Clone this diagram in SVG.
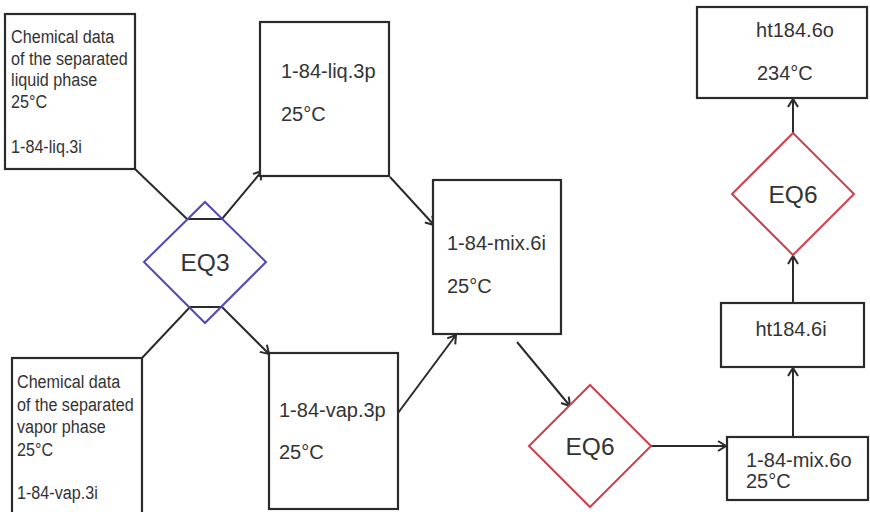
<svg xmlns="http://www.w3.org/2000/svg" width="870" height="512" viewBox="0 0 870 512">
<defs>
<marker id="arr" markerUnits="userSpaceOnUse" markerWidth="14" markerHeight="14" viewBox="0 0 14 14" refX="12" refY="7" orient="auto">
<path d="M4,2 L12,7 L4,12" fill="none" stroke="#2b2b2b" stroke-width="2"/>
</marker>
<style>
.box{fill:#fff;stroke:#2b2b2b;stroke-width:2.2}
.t{font-family:"Liberation Sans",Arial,sans-serif;fill:#333}
.s16{font-size:19px}
.s19{font-size:20px}
.eq{font-size:24.5px;text-anchor:middle}
.blue{fill:#fff;stroke:#5048b8;stroke-width:2}
.red{fill:#fff;stroke:#d0404c;stroke-width:2}
.con{fill:none;stroke:#2b2b2b;stroke-width:2;marker-end:url(#arr)}
</style>
</defs>
<rect width="870" height="512" fill="#fff"/>
<g id="connectors">
<polyline class="con" points="135,169 187,219 222,219 262,171"/>
<polyline class="con" points="142,358 190,307 222,307 269,354"/>
<line class="con" x1="390" y1="177" x2="434" y2="225"/>
<line class="con" x1="398" y1="413" x2="456" y2="335"/>
<line class="con" x1="517" y1="342" x2="570" y2="406"/>
<line class="con" x1="651" y1="446" x2="726" y2="446"/>
<line class="con" x1="793" y1="437" x2="793" y2="368"/>
<line class="con" x1="793" y1="303" x2="793" y2="256"/>
<line class="con" x1="793" y1="133" x2="793" y2="99"/>
</g>
<g id="liq3i">
<rect class="box" x="5" y="14" width="130" height="155"/>
<g transform="scale(0.85,1)">
<text class="t s16" x="13" y="43">Chemical data</text>
<text class="t s16" x="13" y="65">of the separated</text>
<text class="t s16" x="13" y="86">liquid phase</text>
<text class="t s16" x="13" y="108">25°C</text>
<text class="t s16" x="13" y="153">1-84-liq.3i</text>
</g>
</g>
<g id="vap3i">
<rect class="box" x="12" y="358" width="130" height="162"/>
<g transform="scale(0.85,1)">
<text class="t s16" x="20" y="388">Chemical data</text>
<text class="t s16" x="20" y="411">of the separated</text>
<text class="t s16" x="20" y="433">vapor phase</text>
<text class="t s16" x="20" y="456">25°C</text>
<text class="t s16" x="20" y="499">1-84-vap.3i</text>
</g>
</g>
<g id="eq3">
<polygon class="blue" points="205,202 266,262 205,323 144,262" fill-opacity="0"/>
<text class="t eq" x="205" y="271">EQ3</text>
</g>
<g id="liq3p">
<rect class="box" x="260" y="22" width="129" height="154"/>
<text class="t s19" x="281" y="78">1-84-liq.3p</text>
<text class="t s19" x="281" y="121">25°C</text>
</g>
<g id="vap3p">
<rect class="box" x="269" y="353" width="129" height="156"/>
<text class="t s19" x="279" y="417">1-84-vap.3p</text>
<text class="t s19" x="279" y="459">25°C</text>
</g>
<g id="mix6i">
<rect class="box" x="433" y="180" width="128" height="154"/>
<text class="t s19" x="447" y="250">1-84-mix.6i</text>
<text class="t s19" x="447" y="293">25°C</text>
</g>
<g id="eq6a">
<polygon class="red" points="590,385 651,446 590,507 529,446"/>
<text class="t eq" x="590" y="455">EQ6</text>
</g>
<g id="mix6o">
<rect class="box" x="727" y="437" width="141" height="63"/>
<text class="t s19" x="746" y="467">1-84-mix.6o</text>
<text class="t s19" x="746" y="488">25°C</text>
</g>
<g id="ht6i">
<rect class="box" x="721" y="303" width="143" height="64"/>
<text class="t s19" x="791" y="336" text-anchor="middle">ht184.6i</text>
</g>
<g id="eq6b">
<polygon class="red" points="793,133 854,194 793,255 732,194"/>
<text class="t eq" x="793" y="203">EQ6</text>
</g>
<g id="ht6o">
<rect class="box" x="697" y="7" width="170" height="91"/>
<text class="t s19" x="795" y="37" text-anchor="middle">ht184.6o</text>
<text class="t s19" x="757" y="80">234°C</text>
</g>
</svg>
